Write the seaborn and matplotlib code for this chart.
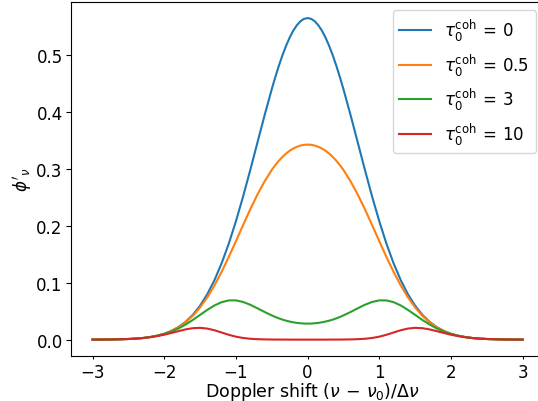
import matplotlib
matplotlib.use("Agg")
import matplotlib.pyplot as plt
import seaborn as sns
import pandas as pd

x = [-3.0, -2.9, -2.8, -2.7, -2.6, -2.5, -2.4, -2.3, -2.2, -2.1, -2.0, -1.9, -1.8, -1.7, -1.6, -1.5,
     -1.4, -1.3, -1.2, -1.1, -1.0, -0.9, -0.8, -0.7, -0.6,
     -0.5, -0.45, -0.4, -0.35, -0.3, -0.25, -0.2, -0.15, -0.1, -0.05, 0.0,
     0.05, 0.1, 0.15, 0.2, 0.25, 0.3, 0.35, 0.4, 0.45, 0.5,
     0.6, 0.7, 0.8, 0.9, 1.0, 1.1, 1.2, 1.3, 1.4, 1.5,
     1.6, 1.7, 1.8, 1.9, 2.0, 2.1, 2.2, 2.3, 2.4, 2.5, 2.6, 2.7, 2.8, 2.9, 3.0]

tau_0 = [0.0001, 0.0001, 0.0002, 0.0004, 0.0007, 0.0011, 0.0018, 0.0028, 0.0045, 0.0069, 0.0103, 0.0153,
         0.0221, 0.0314, 0.0436, 0.0595, 0.0795, 0.1041, 0.1337, 0.1682, 0.2076, 0.2510, 0.2975, 0.3456,
         0.3936,
         0.4394, 0.4608, 0.4808, 0.4992, 0.5156, 0.5300, 0.5421, 0.5516, 0.5586, 0.5628, 0.5642,
         0.5628, 0.5586, 0.5516, 0.5421, 0.5300, 0.5156, 0.4992, 0.4808, 0.4608, 0.4394,
         0.3936, 0.3456, 0.2975, 0.2510, 0.2076, 0.1682, 0.1337,
         0.1041, 0.0795, 0.0595, 0.0436, 0.0314, 0.0221, 0.0153, 0.0103, 0.0069, 0.0045, 0.0028, 0.0018,
         0.0011, 0.0007, 0.0004, 0.0002, 0.0001, 0.0001]

tau_05 = [0.0001, 0.0001, 0.0002, 0.0004, 0.0007, 0.0011, 0.0018, 0.0028, 0.0045, 0.0069, 0.0102, 0.0151,
          0.0217, 0.0305, 0.0419, 0.0564, 0.0741, 0.0949, 0.1188, 0.1449, 0.1727, 0.2009, 0.2286, 0.2544,
          0.2777,
          0.2977, 0.3063, 0.3140, 0.3207, 0.3265, 0.3314, 0.3353, 0.3383, 0.3405, 0.3418, 0.3422,
          0.3418, 0.3405, 0.3383, 0.3353, 0.3314, 0.3265, 0.3207, 0.3140, 0.3063, 0.2977,
          0.2777, 0.2544, 0.2286, 0.2009, 0.1727, 0.1449, 0.1188,
          0.0949, 0.0741, 0.0564, 0.0419, 0.0305, 0.0217, 0.0151, 0.0102, 0.0069, 0.0045, 0.0028, 0.0018,
          0.0011, 0.0007, 0.0004, 0.0002, 0.0001, 0.0001]

tau_3 = [0.0001, 0.0001, 0.0002, 0.0004, 0.0007, 0.0011, 0.0018, 0.0028, 0.0044, 0.0067, 0.0098, 0.0141,
         0.0197, 0.0266, 0.0346, 0.0434, 0.0521, 0.0599, 0.0657, 0.0688, 0.0689, 0.0661, 0.0612, 0.0550,
         0.0485,
         0.0425, 0.0398, 0.0373, 0.0351, 0.0332, 0.0317, 0.0304, 0.0294, 0.0287, 0.0282, 0.0281,
         0.0282, 0.0287, 0.0294, 0.0304, 0.0317, 0.0332, 0.0351, 0.0373, 0.0398, 0.0425,
         0.0485, 0.0550, 0.0612, 0.0661, 0.0689, 0.0688, 0.0657,
         0.0599, 0.0521, 0.0434, 0.0346, 0.0266, 0.0197, 0.0141, 0.0098, 0.0067, 0.0044, 0.0028, 0.0018,
         0.0011, 0.0007, 0.0004, 0.0002, 0.0001, 0.0001]

tau_10 = [0.0001, 0.0001, 0.0002, 0.0004, 0.0007, 0.0011, 0.0017, 0.0027, 0.0042, 0.0061, 0.0086, 0.0117,
          0.0149, 0.0180, 0.0201, 0.0207, 0.0194, 0.0165, 0.0125, 0.0085, 0.0052, 0.0029, 0.0015, 0.0008,
          0.0004,
          0.0002, 0.0001, 0.0001, 0.0001, 0.0001, 0.0000, 0.0000, 0.0000, 0.0000, 0.0000, 0.0000,
          0.0000, 0.0000, 0.0000, 0.0000, 0.0000, 0.0001, 0.0001, 0.0001, 0.0001, 0.0002,
          0.0004, 0.0008, 0.0015, 0.0029, 0.0052, 0.0085, 0.0125,
          0.0165, 0.0194, 0.0207, 0.0201, 0.0180, 0.0149, 0.0117, 0.0086, 0.0061, 0.0042, 0.0027, 0.0017,
          0.0011, 0.0007, 0.0004, 0.0002, 0.0001, 0.0001]

labels = [r"$\tau_0^{\rm coh}\,=\,0$", r"$\tau_0^{\rm coh}\,=\,0.5$",
          r"$\tau_0^{\rm coh}\,=\,3$", r"$\tau_0^{\rm coh}\,=\,10$"]
series = [tau_0, tau_05, tau_3, tau_10]

rows = []
for lab, ys in zip(labels, series):
    for xv, yv in zip(x, ys):
        rows.append({"x": xv, "y": yv, "series": lab})
df = pd.DataFrame(rows)

plt.rcParams["font.size"] = 12
fig = plt.figure(figsize=(5.38, 4.02), dpi=100)
# axes extends slightly past the right edge of the figure, as in the reference
ax = fig.add_axes([71 / 538, (402 - 356.7) / 402, 473.2 / 538, 353.7 / 402])
colors = ["#1f77b4", "#ff7f0e", "#2ca02c", "#d62728"]
sns.lineplot(data=df, x="x", y="y", hue="series", hue_order=labels,
             palette=colors, linewidth=1.5, ax=ax, sort=False)
ax.set_xlim(-3.3, 3.3)
ax.set_ylim(-0.0282, 0.5924)
ax.set_xticks([-3, -2, -1, 0, 1, 2, 3])
ax.set_yticks([0.0, 0.1, 0.2, 0.3, 0.4, 0.5])
ax.set_xlabel(r"Doppler shift $(\nu\,-\,\nu_0)/\Delta\nu$", fontsize=12.5)
ax.xaxis.set_label_coords(0.511, -0.068)
ax.set_ylabel(r"$\phi'_\nu$", fontsize=12, labelpad=2)
ax.tick_params(axis="x", labelsize=12, length=2.5, pad=2.4)
ax.tick_params(axis="y", labelsize=12, length=3.5, pad=2.5)
leg = ax.legend(loc="upper right", fontsize=12, handlelength=1.9)
fig.savefig("out.png", dpi=100)
